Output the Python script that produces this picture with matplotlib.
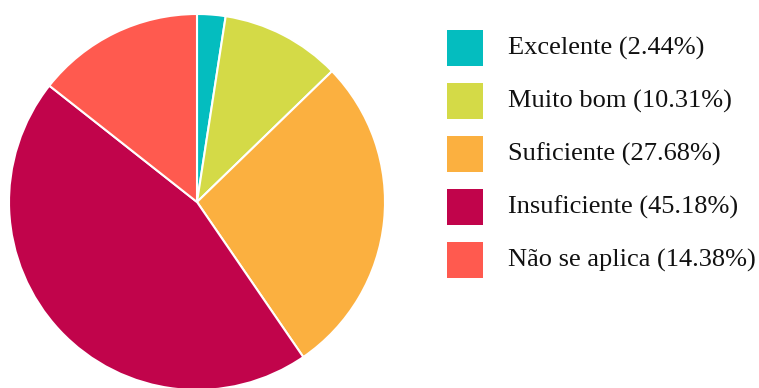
import matplotlib.pyplot as plt
from matplotlib.patches import Rectangle

# Survey answers and their shares (%)
labels = ["Excelente", "Muito bom", "Suficiente", "Insuficiente", "Não se aplica"]
shares = [2.44, 10.31, 27.68, 45.18, 14.38]
colors = ["#04BDBF", "#D4DA47", "#FBB040", "#C1044B", "#FF5A4F"]

W, H = 759, 388
fig = plt.figure(figsize=(W / 100, H / 100), dpi=100)

# pie: centre (197, 202) px, radius 188 px
cx, cy, r = 197, 202, 188
ax = fig.add_axes([(cx - r) / W, (H - cy - r) / H, 2 * r / W, 2 * r / H])
ax.pie(shares, colors=colors, startangle=90, counterclock=False, radius=1,
       wedgeprops=dict(edgecolor="white", linewidth=1.5))
ax.set_xlim(-1, 1)
ax.set_ylim(-1, 1)
ax.set_aspect("equal")
ax.axis("off")

# legend drawn by hand
x0, y0, size, step = 447, 30, 36, 53
for i, (lab, val, col) in enumerate(zip(labels, shares, colors)):
    top = y0 + i * step
    fig.add_artist(Rectangle((x0 / W, (H - top - size) / H), size / W, size / H,
                             transform=fig.transFigure, facecolor=col,
                             edgecolor="none"))
    fig.text(508 / W, (H - top - size / 2) / H, f"{lab} ({val:.2f}%)",
             family="Liberation Serif", fontsize=19, color="#111111",
             va="center", ha="left")

fig.savefig("out.png", dpi=100)
